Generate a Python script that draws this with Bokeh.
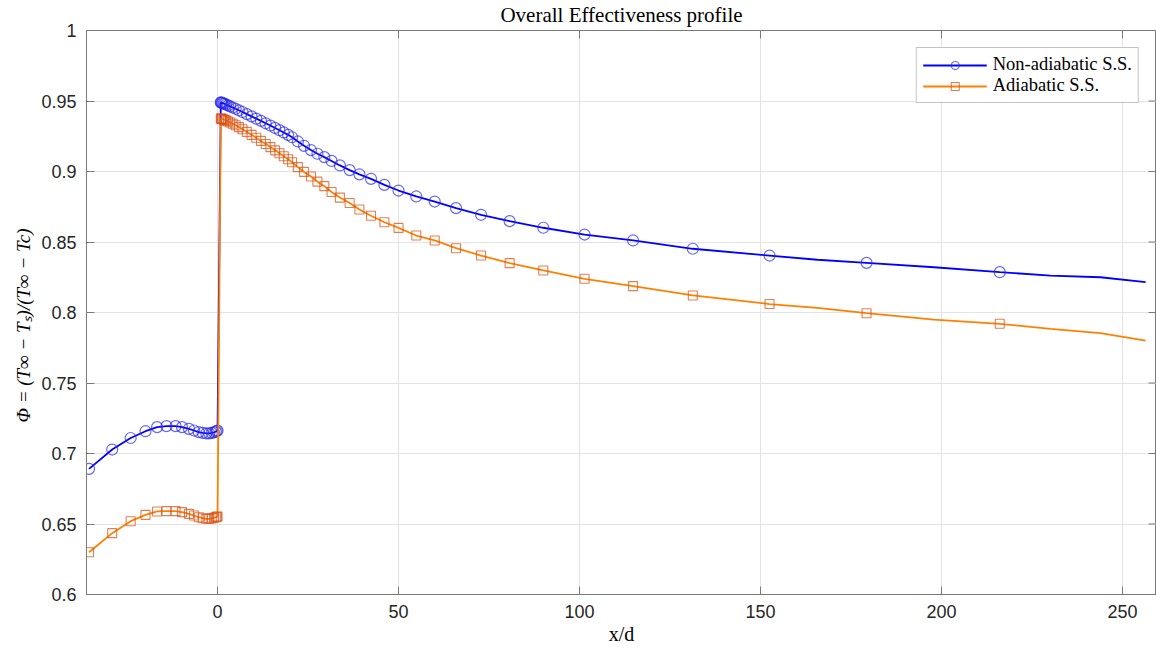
from bokeh.plotting import figure
from bokeh.models import FixedTicker, Title
from bokeh.embed import file_html
from bokeh.resources import INLINE

# ---------------- data ----------------
x_up = [-35.5, -29.1, -24.0, -19.9, -16.7, -14.1, -11.6, -9.8, -7.9, -6.5, -5.2,
        -4.1, -3.1, -2.3, -1.6, -1.0, -0.5, -0.2, 0.0]
x_down = [0.9, 1.0, 1.2, 1.4, 1.7, 2.0, 2.4, 2.9, 3.5, 4.2,
          5.0, 5.9, 6.9, 8.1, 9.4, 10.7, 12.0, 13.3, 14.6, 15.9,
          17.1, 18.3, 19.5, 20.6, 22.2, 23.9, 25.8, 27.6, 29.5, 31.5,
          33.8, 36.5, 39.2, 42.4, 46.1, 50.0, 54.9, 60.0, 65.9, 72.8,
          80.7, 90.0, 101.4, 114.8, 131.3, 152.5, 179.3, 216.1]

nonadiabatic_up = [0.6891, 0.7028, 0.7110, 0.7158, 0.7187, 0.7194, 0.7194, 0.7187, 0.7175,
                   0.7163, 0.7152, 0.7146, 0.7143, 0.7143, 0.7146, 0.7150, 0.7155, 0.7160, 0.7163]
nonadiabatic_down = [0.9490, 0.9489, 0.9487, 0.9485, 0.9482, 0.9479, 0.9475, 0.9469, 0.9462, 0.9454,
                     0.9445, 0.9434, 0.9422, 0.9407, 0.9391, 0.9375, 0.9359, 0.9342, 0.9326, 0.9309,
                     0.9293, 0.9277, 0.9260, 0.9243, 0.9213, 0.9182, 0.9152, 0.9126, 0.9102, 0.9075,
                     0.9043, 0.9010, 0.8980, 0.8948, 0.8905, 0.8865, 0.8823, 0.8787, 0.8740, 0.8693,
                     0.8648, 0.8601, 0.8553, 0.8511, 0.8452, 0.8404, 0.8352, 0.8286]

adiabatic_up = [0.6300, 0.6435, 0.6520, 0.6565, 0.6589, 0.6591, 0.6591, 0.6584, 0.6572,
                0.6560, 0.6548, 0.6541, 0.6537, 0.6537, 0.6540, 0.6544, 0.6548, 0.6551, 0.6553]
adiabatic_down = [0.9376, 0.9375, 0.9373, 0.9371, 0.9368, 0.9365, 0.9361, 0.9355, 0.9348, 0.9339,
                  0.9328, 0.9315, 0.9300, 0.9281, 0.9260, 0.9239, 0.9217, 0.9195, 0.9173, 0.9150,
                  0.9129, 0.9108, 0.9087, 0.9066, 0.9031, 0.8997, 0.8965, 0.8928, 0.8896, 0.8855,
                  0.8815, 0.8777, 0.8731, 0.8686, 0.8640, 0.8600, 0.8546, 0.8511, 0.8456, 0.8404,
                  0.8350, 0.8298, 0.8239, 0.8187, 0.8121, 0.8060, 0.7995, 0.7920]

# extra line-only points (the curves continue between / beyond the last markers)
x_tail = [165.7, 197.9, 230.1, 243.9, 256.4]
nonadiabatic_tail = [0.8374, 0.8321, 0.8262, 0.8250, 0.8215]
adiabatic_tail = [0.8033, 0.7950, 0.7884, 0.7854, 0.7801]

x_ticks = [0, 50, 100, 150, 200, 250]
x_tick_labels = ["0", "50", "100", "150", "200", "250"]
y_ticks = [0.6, 0.65, 0.7, 0.75, 0.8, 0.85, 0.9, 0.95, 1.0]
y_tick_labels = ["0.6", "0.65", "0.7", "0.75", "0.8", "0.85", "0.9", "0.95", "1"]

series_names = ["Non-adiabatic S.S.", "Adiabatic S.S."]
title_text = "Overall Effectiveness profile"
x_label = "x/d"
y_label = "Φ = (T∞ − Tₛ)/(T∞ − Tc)"

X_RANGE = (-36.2, 259.4)
Y_RANGE = (0.6, 1.0)

# ---------------- figure ----------------
W, H = 1156, 655
BL, BR, BT, BB = 86, 0, 30, 61
p = figure(width=W, height=H, x_range=X_RANGE, y_range=Y_RANGE,
           output_backend="svg", toolbar_location=None,
           min_border_left=BL, min_border_right=BR, min_border_top=BT, min_border_bottom=BB,
           background_fill_color="white", border_fill_color="white")
p.outline_line_color = "#7a7a7a"

AX = "#7a7a7a"
TICK_FONT = "Liberation Sans"
SERIF = "Liberation Serif"

for ax in (p.xaxis[0], p.yaxis[0]):
    ax.axis_line_color = AX
    ax.major_tick_line_color = AX
    ax.major_tick_in = 8
    ax.major_tick_out = 0
    ax.minor_tick_line_color = None
    ax.major_label_text_font = TICK_FONT
    ax.major_label_text_font_size = "18px"
    ax.major_label_text_color = "#262626"
    ax.major_label_standoff = 10

p.xaxis.ticker = FixedTicker(ticks=x_ticks)
p.xaxis.major_label_overrides = dict(zip(x_ticks, x_tick_labels))
p.yaxis.ticker = FixedTicker(ticks=y_ticks)
p.yaxis.major_label_overrides = dict(zip(y_ticks, y_tick_labels))

p.xaxis.axis_label = x_label
p.xaxis.axis_label_text_font = SERIF
p.xaxis.axis_label_text_font_style = "normal"
p.xaxis.axis_label_text_font_size = "20px"
p.xaxis.axis_label_text_color = "#000000"
p.xaxis.axis_label_standoff = 2

# y label as a side title so it can sit slightly above the frame centre, like the reference
p.add_layout(Title(text=y_label, align="left", offset=172, text_font=SERIF,
                   text_font_style="italic", text_font_size="19px",
                   text_color="#000000", standoff=10), "left")

p.xgrid.ticker = FixedTicker(ticks=x_ticks)
p.ygrid.ticker = FixedTicker(ticks=y_ticks)
p.grid.grid_line_color = "#e3e3e3"
p.grid.grid_line_width = 1

# mirrored inward ticks on the top and right edges (box on)
TICK_PX = 8
frame_w = W - BL - BR
frame_h = H - BT - BB
dy_tick = TICK_PX * (Y_RANGE[1] - Y_RANGE[0]) / frame_h
dx_tick = TICK_PX * (X_RANGE[1] - X_RANGE[0]) / frame_w
p.segment(x0=x_ticks, y0=[Y_RANGE[1]] * len(x_ticks),
          x1=x_ticks, y1=[Y_RANGE[1] - dy_tick] * len(x_ticks),
          line_color=AX, line_width=1)
p.segment(x0=[X_RANGE[1]] * len(y_ticks), y0=y_ticks,
          x1=[X_RANGE[1] - dx_tick] * len(y_ticks), y1=y_ticks,
          line_color=AX, line_width=1)

p.title.text = title_text
p.title.align = "center"
p.title.vertical_align = "top"
p.title.text_font = SERIF
p.title.text_font_style = "normal"
p.title.text_font_size = "21px"
p.title.text_color = "#000000"
p.title.standoff = 4

# ---------------- series ----------------
def line_pts(xu, yu, xd, yd, xt, yt):
    up = list(zip(xu, yu))
    down = sorted(list(zip(xd, yd)) + list(zip(xt, yt)))
    pts = up + down
    return [a for a, _ in pts], [b for _, b in pts]


bx, by = line_pts(x_up, nonadiabatic_up, x_down, nonadiabatic_down, x_tail, nonadiabatic_tail)
ox, oy = line_pts(x_up, adiabatic_up, x_down, adiabatic_down, x_tail, adiabatic_tail)

p.line(bx, by, line_color="#0000ff", line_width=1.8, legend_label=series_names[0])
p.scatter(x_up + x_down, nonadiabatic_up + nonadiabatic_down, marker="circle", size=11,
          fill_color=None, line_color="#2a2ae8", line_alpha=0.7, line_width=1.2,
          legend_label=series_names[0])

p.line(ox, oy, line_color="#ff8000", line_width=1.8, legend_label=series_names[1])
p.scatter(x_up + x_down, adiabatic_up + adiabatic_down, marker="square", size=9,
          fill_color=None, line_color="#d95319", line_alpha=0.75, line_width=1.1,
          legend_label=series_names[1])

lg = p.legend[0]
lg.location = "top_right"
lg.margin = 17
lg.border_line_color = "#8a8a8a"
lg.border_line_width = 1
lg.background_fill_color = "white"
lg.background_fill_alpha = 1.0
lg.label_text_font = SERIF
lg.label_text_font_size = "18.5px"
lg.label_text_color = "#000000"
lg.glyph_width = 64
lg.glyph_height = 20
lg.label_height = 20
lg.label_standoff = 6
lg.padding = 6
lg.spacing = 0

open("out.html", "w").write(file_html(p, INLINE))
